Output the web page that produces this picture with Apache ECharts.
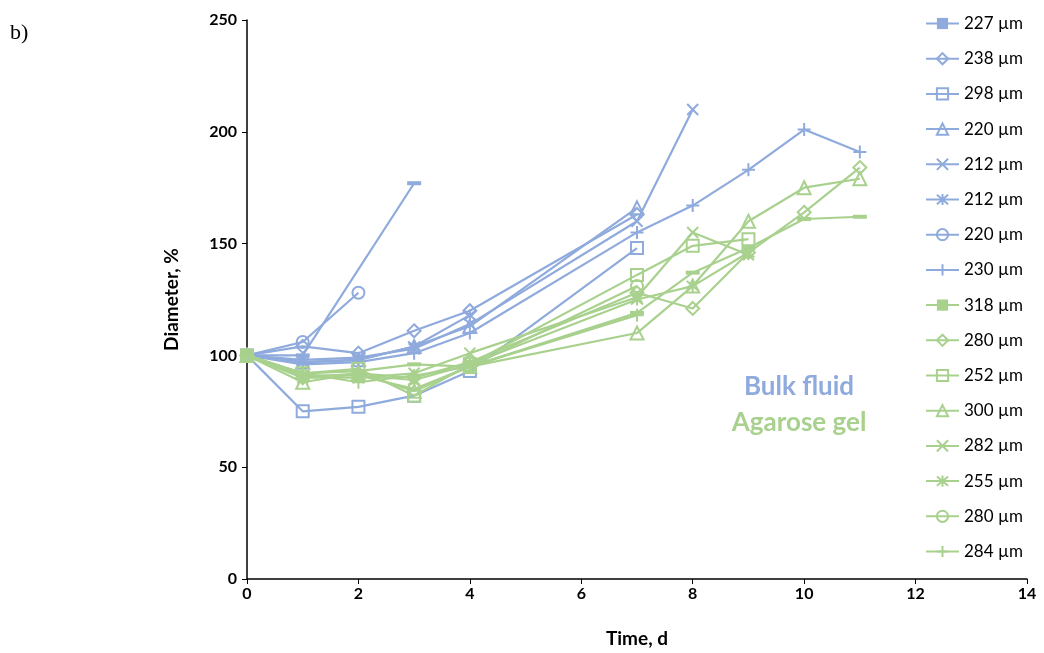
<!DOCTYPE html>
<html>
<head>
<meta charset="utf-8">
<script src="https://cdn.jsdelivr.net/npm/echarts@6/dist/echarts.min.js"></script>
<style>
html,body{margin:0;padding:0;background:#fff;}
#chart{width:1044px;height:653px;}
</style>
</head>
<body>
<div id="chart"></div>
<script>
// ---- Data (day, diameter %) ----
const xTicks = [0, 2, 4, 6, 8, 10, 12, 14];
const yTicks = [0, 50, 100, 150, 200, 250];

// Bulk fluid (blue)
const bulkLabels = ['227 µm','238 µm','298 µm','220 µm','212 µm','212 µm','220 µm','230 µm'];
const bulk227 = [[0,100],[1,100],[3,177]];
const bulk238 = [[0,100],[1,104],[2,101],[3,111],[4,120],[7,163]];
const bulk298 = [[0,100],[1,75],[2,77],[3,82],[4,93],[7,148]];
const bulk220t = [[0,100],[1,97],[2,98],[3,104],[4,113],[7,166]];
const bulk212x = [[0,100],[1,98],[2,99],[3,103],[4,114],[7,160],[8,210]];
const bulk212s = [[0,100],[1,97],[2,98],[3,104],[4,118]];
const bulk220c = [[0,100],[1,106],[2,128]];
const bulk230 = [[0,100],[1,96],[2,97],[3,101],[4,110],[7,155],[8,167],[9,183],[10,201],[11,191]];

// Agarose gel (green)
const gelLabels = ['318 µm','280 µm','252 µm','300 µm','282 µm','255 µm','280 µm','284 µm'];
const gel318 = [[0,100],[1,92],[2,93],[3,96],[4,95],[7,119],[8,137],[9,148],[10,161],[11,162]];
const gel280d = [[0,100],[1,90],[2,92],[3,90],[4,97],[7,128],[8,121],[9,146],[10,164],[11,184]];
const gel252 = [[0,100],[1,92],[2,94],[3,82],[4,96],[7,136],[8,149],[9,152]];
const gel300 = [[0,100],[1,88],[2,92],[3,84],[4,95],[7,110],[8,131],[9,160],[10,175],[11,179]];
const gel282 = [[0,100],[1,90],[2,90],[3,92],[4,101],[7,126],[8,155],[9,145]];
const gel255 = [[0,100],[1,91],[2,91],[3,89],[4,96],[7,125],[8,131],[9,146]];
const gel280c = [[0,100],[1,91],[2,91],[3,85],[4,95],[7,131]];
const gel284 = [[0,100],[1,92],[2,88],[3,91],[4,95],[7,118]];

const bulkData = [bulk227, bulk238, bulk298, bulk220t, bulk212x, bulk212s, bulk220c, bulk230];
const gelData = [gel318, gel280d, gel252, gel300, gel282, gel255, gel280c, gel284];

// ---- Styling ----
const BLUE = '#8FAADC';
const GREEN = '#A9D18E';
const markers = [
  {symbol:'rect', size:[14,4], filled:true},
  {symbol:'diamond', size:13},
  {symbol:'rect', size:12},
  {symbol:'triangle', size:13},
  {symbol:'path://M0,0L10,10M10,0L0,10', size:11},
  {symbol:'path://M0,0L10,10M10,0L0,10M5,-1L5,11', size:12},
  {symbol:'circle', size:12},
  {symbol:'path://M5,0L5,10M0,5L10,5', size:13}
];

function mkSeries(name, data, color, m) {
  return {
    type: 'line',
    name: name,
    data: data,
    symbol: m.symbol,
    symbolSize: m.size,
    showSymbol: true,
    lineStyle: {color: color, width: 2.2},
    itemStyle: m.filled
      ? {color: color, borderColor: color, borderWidth: 0}
      : {color: 'transparent', borderColor: color, borderWidth: 2},
    emphasis: {disabled: true},
    z: 2
  };
}

const series = [];
const legendData = [];
bulkData.forEach((d, i) => {
  const nm = bulkLabels[i] + '\u200b'.repeat(i);
  series.push(mkSeries(nm, d, BLUE, markers[i]));
  legendData.push(nm);
});
gelData.forEach((d, i) => {
  const nm = gelLabels[i] + '\u200c'.repeat(i + 1);
  series.push(mkSeries(nm, d, GREEN, markers[i]));
  legendData.push(nm);
});

const chart = echarts.init(document.getElementById('chart'), null, {renderer: 'canvas'});
const FONT = 'Lato, "Open Sans", sans-serif';
chart.setOption({
  animation: false,
  backgroundColor: '#fff',
  grid: {left: 247, right: 17, top: 20, bottom: 73, containLabel: false},
  xAxis: {
    type: 'value', min: xTicks[0], max: xTicks[xTicks.length - 1], interval: 2,
    name: 'Time, d', nameLocation: 'middle', nameGap: 50,
    nameTextStyle: {fontFamily: FONT, fontWeight: 'bold', fontSize: 19, color: '#000'},
    axisLine: {show: true, lineStyle: {color: '#000', width: 1.5}},
    axisTick: {show: true, inside: false, length: 5, lineStyle: {color: '#000'}},
    axisLabel: {fontFamily: FONT, fontWeight: 'bold', fontSize: 16, color: '#000', margin: 7},
    splitLine: {show: false}
  },
  yAxis: {
    type: 'value', min: yTicks[0], max: yTicks[yTicks.length - 1], interval: 50,
    name: 'Diameter, %', nameLocation: 'middle', nameGap: 66, nameRotate: 90,
    nameTextStyle: {fontFamily: FONT, fontWeight: 'bold', fontSize: 19, color: '#000'},
    axisLine: {show: true, lineStyle: {color: '#000', width: 1.5}},
    axisTick: {show: true, inside: false, length: 5, lineStyle: {color: '#000'}},
    axisLabel: {fontFamily: FONT, fontWeight: 'bold', fontSize: 16, color: '#000', margin: 10},
    splitLine: {show: false}
  },
  legend: {
    orient: 'vertical', left: 920, top: 10,
    itemWidth: 33, itemHeight: 14, itemGap: 18.2,
    data: legendData,
    formatter: n => n.replace(/[\u200b\u200c]/g, ''),
    textStyle: {fontFamily: FONT, fontSize: 17, color: '#000'},
    selectedMode: false
  },
  graphic: [
    {type: 'text', left: 10, top: 22, style: {text: 'b)', font: '22px "Liberation Serif", "DejaVu Serif", serif', fill: '#000'}},
    {type: 'text', x: 799, y: 387, style: {text: 'Bulk fluid', font: 'bold 26px Lato, "Open Sans", sans-serif', fill: BLUE, align: 'center', verticalAlign: 'middle'}},
    {type: 'text', x: 799, y: 423, style: {text: 'Agarose gel', font: 'bold 26px Lato, "Open Sans", sans-serif', fill: GREEN, align: 'center', verticalAlign: 'middle'}}
  ],
  series: series
});
</script>
</body>
</html>
